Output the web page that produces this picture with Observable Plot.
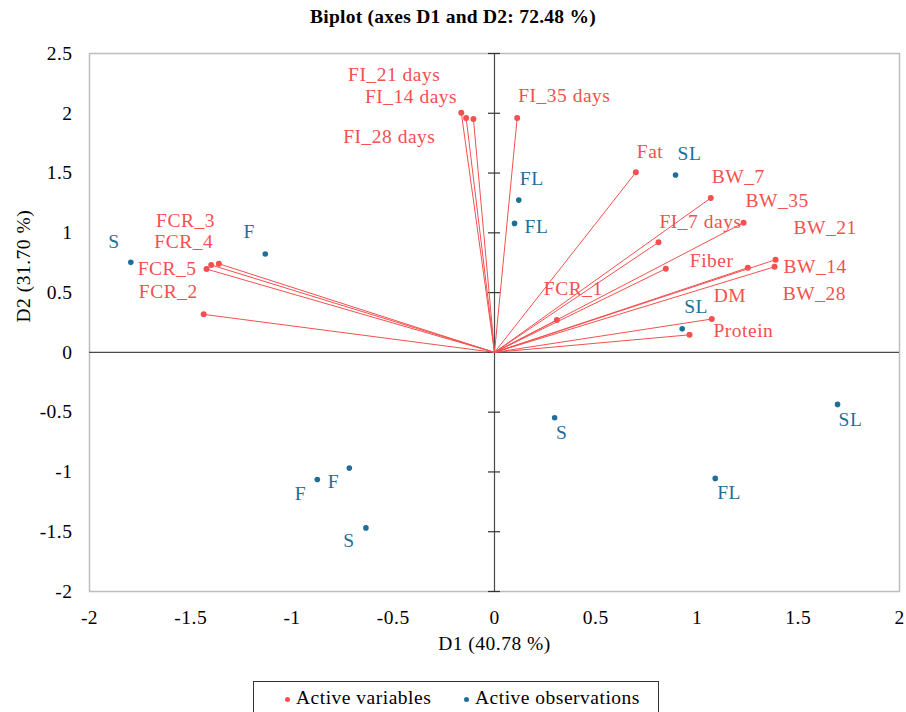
<!DOCTYPE html>
<html>
<head>
<meta charset="utf-8">
<script src="https://cdn.jsdelivr.net/npm/d3@7"></script>
<script src="https://cdn.jsdelivr.net/npm/@observablehq/plot@0.6"></script>
<style>
  html, body { margin: 0; padding: 0; background: #fff; }
  #wrap { position: relative; width: 906px; height: 712px; overflow: hidden; font-family: "Liberation Serif", "Times New Roman", serif; color: #000; }
  #title { position: absolute; left: 0; top: 0; width: 906px; text-align: center; font-weight: bold; font-size: 19.5px; letter-spacing: 0.25px; line-height: 34px; }
  #chart { position: absolute; left: 0; top: 40px; }
  #legend { position: absolute; left: 253px; top: 681px; width: 404px; height: 40px; border: 1px solid #333; background: #fff; font-size: 19.5px; letter-spacing: 0.5px; }
  #legend .dot { position: absolute; width: 5px; height: 5px; border-radius: 50%; top: 15px; }
  #legend .txt { position: absolute; top: 4px; line-height: 24px; white-space: nowrap; }
</style>
</head>
<body>
<div id="wrap">
  <div id="title">Biplot (axes D1 and D2: 72.48 %)</div>
  <div id="chart"></div>
  <div id="legend">
    <span class="dot" style="left:31px;background:#f5504f"></span><span class="txt" style="left:42px">Active variables</span>
    <span class="dot" style="left:210px;background:#1f6e97"></span><span class="txt" style="left:221px">Active observations</span>
  </div>
</div>
<script>
// ---- Data ----
const varNames = ["FCR_1","FCR_2","FCR_3","FCR_4","FCR_5",
  "FI_7 days","FI_14 days","FI_21 days","FI_28 days","FI_35 days",
  "BW_7","BW_14","BW_21","BW_28","BW_35",
  "Fat","Fiber","DM","Protein"];
const varD1 = [0.308,-1.436,-1.361,-1.399,-1.422,
  0.810,-0.140,-0.164,-0.104,0.112,
  1.068,1.383,1.388,1.251,1.230,
  0.698,0.846,1.073,0.963];
const varD2 = [0.270,0.318,0.741,0.731,0.697,
  0.921,1.960,2.005,1.952,1.960,
  1.291,0.716,0.775,0.708,1.085,
  1.506,0.700,0.279,0.147];

const obsNames = ["S","F","FL","FL","SL","SL","S","SL","FL","F","F","S"];
const obsD1 = [-1.796,-1.132,0.120,0.099,0.894,0.927,0.297,1.694,1.090,-0.875,-0.717,-0.635];
const obsD2 = [0.753,0.823,1.274,1.079,1.484,0.197,-0.547,-0.435,-1.054,-1.063,-0.968,-1.468];

const xTicks = [-2,-1.5,-1,-0.5,0,0.5,1,1.5,2];
const yTicks = [-2,-1.5,-1,-0.5,0,0.5,1,1.5,2,2.5];

const xTitle = "D1 (40.78 %)";
const yTitle = "D2 (31.70 %)";

// ---- Layout of point labels (anchor, dx px, dy px) ----
const varLabelPlace = [
  ["start",-13,-31],["end",-6,-23],["end",-4,-43],["end",2,-23],["end",-10,0],
  ["start",1,-21],["end",-9,-21],["end",-21,-38],["end",-38,18],["start",1,-22],
  ["start",1,-21],["start",9,0],["start",18,-32],["start",35,26],["start",2,-22],
  ["start",1,-21],["start",24,-8],["start",2,-23],["start",24,-4]
];
const obsLabelPlace = [
  ["middle",-17,-21],["middle",-16,-22],["start",1,-21],["start",10,3],
  ["start",2,-21],["start",2,-22],["middle",7,15],["start",1,15],
  ["start",2,14],["middle",-17,14],["middle",-16,14],["middle",-17,13]
];

const RED = "#f5504f";
const BLUE = "#1f6e97";
const FONT = "Liberation Serif";
const FS = 19.5;

const vars = varNames.map((n,i) => ({name:n, d1:varD1[i], d2:varD2[i]}));
const obs = obsNames.map((n,i) => ({name:n, d1:obsD1[i], d2:obsD2[i]}));

const chart = Plot.plot({
  width: 906,
  height: 630,
  marginTop: 13,
  marginBottom: 79,
  marginLeft: 89,
  marginRight: 7,
  x: {domain: [-2, 2]},
  y: {domain: [-2, 2.5]},
  style: {fontFamily: FONT, fontSize: FS + "px", letterSpacing: "0.5px", color: "#000", background: "#fff", overflow: "visible"},
  marks: [
    Plot.axisX({ticks: xTicks, tickSize: 0, tickPadding: 19, tickFormat: d => String(d), label: null, fontSize: FS, fontFamily: FONT}),
    Plot.axisY({ticks: yTicks, tickSize: 0, tickPadding: 17, tickFormat: d => String(d), label: null, fontSize: FS, fontFamily: FONT}),
    Plot.frame({stroke: "#bdbdbd", strokeWidth: 1.5}),
    Plot.ruleY([0], {stroke: "#4a4a4a", strokeWidth: 1.2}),
    Plot.ruleX([0], {stroke: "#4a4a4a", strokeWidth: 1.2}),
    Plot.ruleY(yTicks, {x1: 0, x2: 0, insetLeft: -6, insetRight: -6, stroke: "#333", strokeWidth: 1.2}),
    Plot.link(vars, {x1: 0, y1: 0, x2: "d1", y2: "d2", stroke: RED, strokeWidth: 1}),
    Plot.dot(vars, {x: "d1", y: "d2", r: 3, fill: RED}),
    Plot.dot(obs, {x: "d1", y: "d2", r: 2.8, fill: BLUE}),
    ...vars.map((v,i) => Plot.text([v], {x: "d1", y: "d2", text: "name", textAnchor: varLabelPlace[i][0], dx: varLabelPlace[i][1], dy: varLabelPlace[i][2], fill: RED, fontSize: FS, fontFamily: FONT})),
    ...obs.map((o,i) => Plot.text([o], {x: "d1", y: "d2", text: "name", textAnchor: obsLabelPlace[i][0], dx: obsLabelPlace[i][1], dy: obsLabelPlace[i][2], fill: BLUE, fontSize: FS, fontFamily: FONT})),
    Plot.text([xTitle], {frameAnchor: "bottom", dy: 58, fontSize: FS, fontFamily: FONT, fill: "#000"}),
    Plot.text([yTitle], {frameAnchor: "left", rotate: -90, dx: -66, fontSize: FS, fontFamily: FONT, fill: "#000"})
  ]
});
document.getElementById("chart").appendChild(chart);
</script>
</body>
</html>
